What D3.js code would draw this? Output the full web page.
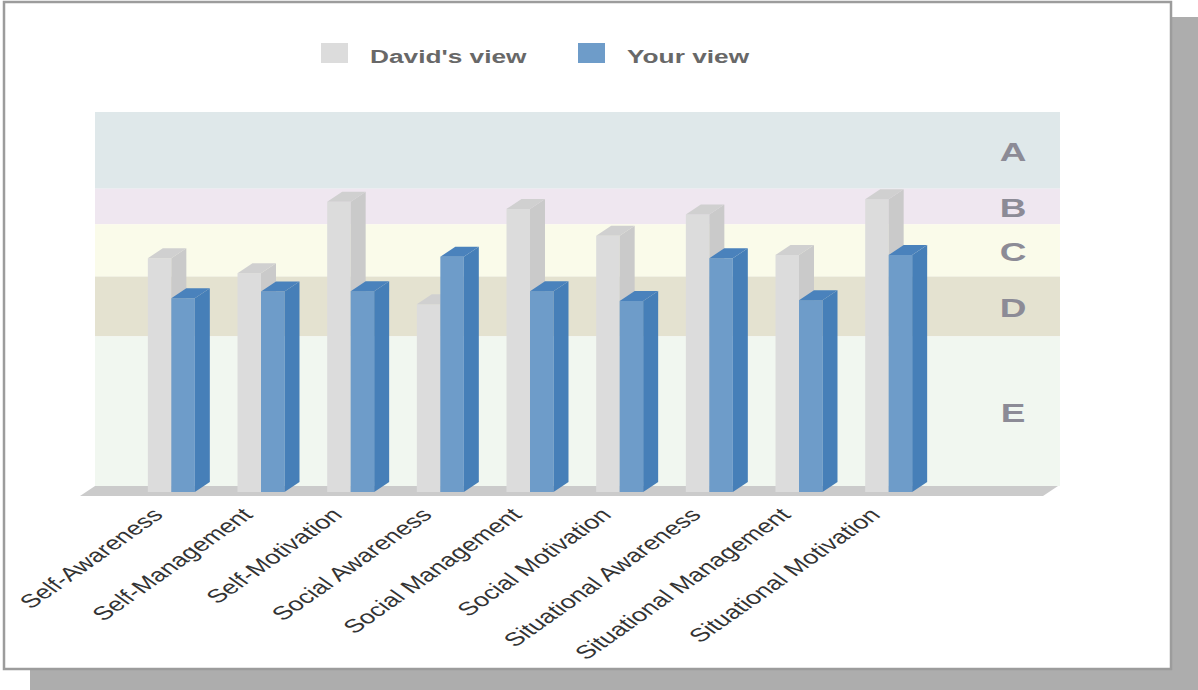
<!DOCTYPE html>
<html>
<head>
<meta charset="utf-8">
<script src="https://cdn.jsdelivr.net/npm/d3@7"></script>
<style>
  html, body { margin: 0; padding: 0; background: #ffffff; }
  svg { display: block; }
  text { font-family: "Liberation Sans", Arial, sans-serif; }
</style>
</head>
<body>
<svg id="chart" width="1198" height="690"></svg>
<script>
// ---- data ----
const categories = ["Self-Awareness", "Self-Management", "Self-Motivation", "Social Awareness",
  "Social Management", "Social Motivation", "Situational Awareness", "Situational Management",
  "Situational Motivation"];
const davidValues = [62.5, 58.5, 77.6, 50.2, 75.7, 68.5, 74.2, 63.4, 78.3];
const yourValues  = [51.8, 53.6, 53.7, 62.9, 53.7, 51.1, 62.5, 51.3, 63.4];
const seriesNames = ["David's view", "Your view"];
const bandLabels  = ["A", "B", "C", "D", "E"];
const bandTops    = [100, 79.5, 70, 56, 40];
const bandBottoms = [79.5, 70, 56, 40, 0];

// ---- styles ----
const bandColors = ["#dfe8ea", "#efe7f0", "#fafbea", "#e4e2d0", "#f1f7f0"];
const seriesFront = ["#dcdcdc", "#6e9cc9"];
const seriesSide  = ["#cacaca", "#467fb8"];
const seriesTop   = ["#d0d0d0", "#4a82bc"];
const SX = 1.42; // horizontal stretch of text

const svg = d3.select("#chart");

// frame with shadow
svg.append("rect").attr("x", 30).attr("y", 17).attr("width", 1168).attr("height", 673).attr("fill", "#adadad");
svg.append("rect").attr("x", 4).attr("y", 2).attr("width", 1167).attr("height", 667)
  .attr("fill", "#ffffff").attr("stroke", "#9c9c9c").attr("stroke-width", 2.5);

// scales
const wallLeft = 95, wallRight = 1060;
const depthX = 15, depthY = 10, frontOffset = 6;
const y = d3.scaleLinear().domain([0, 100]).range([486, 112]);
const x = d3.scaleBand().domain(categories).range([126.5, 933.5])
  .paddingInner(0.476).paddingOuter(0.238);
const x1 = d3.scaleBand().domain(seriesNames).range([0, x.bandwidth()]);

// back wall bands
const bands = bandLabels.map((l, i) => ({ label: l, top: bandTops[i], bottom: bandBottoms[i], color: bandColors[i] }));
svg.append("g").selectAll("rect").data(bands).join("rect")
  .attr("x", wallLeft).attr("width", wallRight - wallLeft)
  .attr("y", d => y(d.top)).attr("height", d => y(d.bottom) - y(d.top))
  .attr("fill", d => d.color);

svg.append("g").selectAll("text").data(bands).join("text")
  .attr("transform", d => `translate(1013,${(y(d.top) + y(d.bottom)) / 2 + 1}) scale(${SX},1)`)
  .attr("text-anchor", "middle").attr("dy", "0.36em")
  .attr("font-size", 26).attr("font-weight", "bold").attr("fill", "#8c8b96")
  .text(d => d.label);

// floor
const y0 = y(0);
svg.append("path")
  .attr("d", `M${wallLeft},${y0} L${wallRight - 2},${y0} L${wallRight - 2 - depthX},${y0 + depthY} L${wallLeft - depthX},${y0 + depthY} Z`)
  .attr("fill", "#cbcbcb");

// bars
const barData = [];
categories.forEach((c, i) => {
  [davidValues[i], yourValues[i]].forEach((v, s) => barData.push({ cat: c, s, v }));
});
const yb = v => y(v) + frontOffset;
const bw = x1.bandwidth();
const bars = svg.append("g").selectAll("g").data(barData).join("g");
bars.append("rect")
  .attr("x", d => x(d.cat) + x1(seriesNames[d.s])).attr("width", bw)
  .attr("y", d => yb(d.v)).attr("height", d => yb(0) - yb(d.v))
  .attr("fill", d => seriesFront[d.s]);
bars.append("path")
  .attr("d", d => {
    const x0 = x(d.cat) + x1(seriesNames[d.s]);
    const t = yb(d.v), b = yb(0);
    return `M${x0 + bw},${t} L${x0 + bw + depthX},${t - depthY} L${x0 + bw + depthX},${b - depthY} L${x0 + bw},${b} Z`;
  })
  .attr("fill", d => seriesSide[d.s]);
bars.append("path")
  .attr("d", d => {
    const x0 = x(d.cat) + x1(seriesNames[d.s]);
    const t = yb(d.v);
    return `M${x0},${t} L${x0 + depthX},${t - depthY} L${x0 + bw + depthX},${t - depthY} L${x0 + bw},${t} Z`;
  })
  .attr("fill", d => seriesTop[d.s]);

// category labels
svg.append("g").selectAll("text").data(categories).join("text")
  .attr("transform", d => `translate(${x(d) + x.bandwidth() / 2 - 7},516) scale(${SX},1) rotate(-45)`)
  .attr("text-anchor", "end")
  .attr("font-size", 19).attr("fill", "#333333")
  .text(d => d);

// legend
const legendX = [321, 578];
const legend = svg.append("g").selectAll("g").data(seriesNames).join("g");
legend.append("rect")
  .attr("x", (d, i) => legendX[i]).attr("y", 43).attr("width", 27).attr("height", 20)
  .attr("fill", (d, i) => seriesFront[i]);
legend.append("text")
  .attr("transform", (d, i) => `translate(${legendX[i] + 49},63) scale(${SX},1)`)
  .attr("font-size", 18.5).attr("font-weight", "bold").attr("fill", "#686868")
  .text(d => d);
</script>
</body>
</html>
